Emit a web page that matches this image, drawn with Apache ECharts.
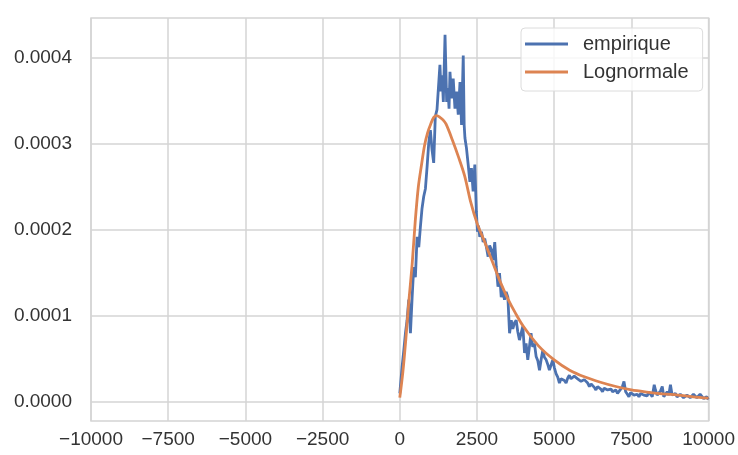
<!DOCTYPE html>
<html>
<head>
    <meta charset="utf-8">
    <title>empirique vs Lognormale</title>
    <script src="https://cdn.jsdelivr.net/npm/echarts@6/dist/echarts.min.js"></script>
    <style>
        html, body { margin: 0; padding: 0; background: #fff; }
    </style>
</head>
<body>
    <div id="main" style="width: 738px;height:455px;"></div>
    <script type="text/javascript">
        // densities, in units of 1e-5
        var UNIT = 1e-5;

        var empiriqueX = [
            0, 75, 130, 183, 236, 290, 345, 400, 452, 505, 560, 615, 668, 720, 775, 830, 885, 937, 990,
            1045, 1098, 1150, 1205, 1246, 1300, 1335, 1370, 1410, 1465, 1518, 1560, 1595, 1625, 1680,
            1730, 1787, 1840, 1893, 1950, 2000, 2055, 2085, 2110, 2160, 2215, 2270, 2320, 2375, 2430,
            2480, 2515, 2550, 2590, 2645, 2700, 2750, 2800, 2860, 2910, 2965, 3020, 3075, 3125, 3180,
            3230, 3285, 3340, 3390, 3445, 3500, 3555, 3610, 3660, 3715, 3770, 3820, 3875, 3930, 3985,
            4040, 4090, 4145, 4200, 4250, 4305, 4360, 4415, 4470, 4525, 4580, 4630, 4685, 4740, 4790,
            4845, 4900, 4955, 5005, 5060, 5115, 5170, 5220, 5275, 5330, 5385, 5440, 5490, 5545, 5600,
            5650, 5705, 5760, 5815, 5870, 5920, 5975, 6030, 6085, 6140, 6195, 6245, 6300, 6350, 6405,
            6460, 6510, 6565, 6620, 6675, 6730, 6780, 6840, 6890, 6945, 6995, 7050, 7100, 7155, 7210,
            7260, 7315, 7370, 7420, 7475, 7530, 7585, 7640, 7690, 7745, 7800, 7850, 7905, 7960, 8010,
            8065, 8120, 8175, 8240, 8280, 8335, 8390, 8445, 8500, 8550, 8605, 8660, 8710, 8765, 8820,
            8875, 8925, 8980, 9030, 9085, 9140, 9190, 9245, 9300, 9350, 9405, 9460, 9510, 9565, 9620,
            9670, 9725, 9780, 9840, 9890, 9940, 9990
        ];
        var empiriqueY = [
            1.0, 4.1, 6.0, 8.0, 9.5, 11.9, 8.0, 12.2, 15.7, 14.5, 19.2, 18.0, 20.4, 22.5, 23.9, 24.8, 27.4, 30.1, 31.6,
            29.3, 27.8, 33.2, 34.0, 34.2, 39.2, 36.1, 38.0, 34.9, 42.7, 34.9, 36.5, 34.1, 38.4, 35.3,
            37.6, 34.1, 36.1, 33.4, 37.2, 32.2, 40.3, 32.2, 30.7, 29.5, 27.6, 25.6, 27.2, 24.5, 27.6,
            22.1, 19.8, 20.5, 19.2, 19.8, 18.6, 19.0, 18.1, 16.9, 18.2, 17.7, 16.5, 18.6, 15.7, 13.4,
            15.0, 12.2, 13.0, 11.9, 12.8, 12.2, 8.0, 9.5, 8.5, 9.2, 9.5, 8.2, 7.2, 8.0, 8.8,
            5.7, 6.8, 4.9, 6.5, 8.0, 6.4, 6.8, 5.3, 4.8, 3.7, 5.0, 6.0, 5.2, 4.9, 4.4,
            3.7, 4.3, 4.9, 4.0, 3.3, 2.9, 2.2, 2.7, 2.9, 2.5, 2.2, 2.8, 3.1, 2.7, 2.6,
            3.0, 3.1, 2.7, 2.6, 2.4, 2.2, 2.6, 2.8, 2.2, 1.8, 2.1, 2.2, 1.7, 1.4, 1.8,
            1.6, 1.5, 1.2, 1.6, 1.8, 1.4, 1.2, 1.5, 1.2, 1.4, 1.4, 1.0, 1.2, 1.5, 1.8,
            2.4, 1.2, 0.9, 0.6, 1.1, 1.0, 0.8, 1.0, 0.9, 0.6, 1.0, 1.2, 0.8, 1.0, 0.7,
            1.2, 0.9, 0.6, 2.0, 1.4, 0.8, 1.0, 1.3, 1.8, 0.6, 0.9, 1.2, 0.8, 2.0, 0.8,
            0.7, 1.0, 0.6, 0.4, 0.9, 0.8, 0.5, 0.4, 0.8, 1.0, 0.5, 0.6, 0.9, 0.8, 0.5,
            0.4, 0.9, 0.8, 0.4, 0.2, 0.6, 0.3
        ];

        var lognormX = [
            0, 100, 200, 300, 400, 500, 600, 700, 800, 900, 1000, 1100, 1200, 1300, 1400, 1500,
            1700, 1900, 2100, 2300, 2500, 2750, 3000, 3250, 3500, 3750, 4000, 4500, 5000, 5500,
            6000, 6500, 7000, 7500, 8000, 8500, 9000, 9500, 10000
        ];
        var lognormY = [
            0.5, 3.5, 7.5, 12, 16, 21, 25, 27.5, 29.8, 31.3, 32.3, 33.1, 33.3, 33.1, 32.8, 32.3,
            30.5, 28.5, 26.3, 23.2, 20.8, 18.6, 16.3, 14, 12, 10.3, 8.8, 6.5, 4.9, 3.7,
            2.9, 2.3, 1.8, 1.4, 1.15, 0.95, 0.8, 0.6, 0.45
        ];

        var yTicks = [0, 0.0001, 0.0002, 0.0003, 0.0004];

        function pairs(xs, ys) {
            return xs.map(function (x, i) { return [x, ys[i] * UNIT]; });
        }

        var chartDom = document.getElementById('main');
        var myChart = echarts.init(chartDom);
        var option;

        var textColor = '#333333';
        var gridColor = '#d4d4d4';
        var font = 'Liberation Sans, Arial, sans-serif';

        option = {
            animation: false,
            backgroundColor: '#ffffff',
            grid: {
                left: 91,
                right: 27,
                top: 18,
                bottom: 34,
                show: true,
                borderColor: gridColor,
                borderWidth: 1.5
            },
            legend: {
                orient: 'vertical',
                left: 521,
                top: 28,
                padding: [6, 14, 9, 4],
                itemGap: 8,
                itemWidth: 43,
                itemHeight: 3,
                icon: 'rect',
                backgroundColor: 'rgba(255,255,255,0.8)',
                borderColor: '#dcdcdc',
                borderWidth: 1,
                borderRadius: 4,
                textStyle: {
                    color: textColor,
                    fontFamily: font,
                    fontSize: 20,
                    padding: [0, 0, 0, 10]
                },
                data: ['empirique', 'Lognormale']
            },
            xAxis: {
                type: 'value',
                min: -10000,
                max: 10000,
                interval: 2500,
                axisLine: { show: false },
                axisTick: { show: false },
                splitLine: { show: true, lineStyle: { color: gridColor, width: 1.5 } },
                axisLabel: {
                    color: textColor,
                    fontFamily: font,
                    fontSize: 19,
                    margin: 9,
                    showMinLabel: true,
                    showMaxLabel: true,
                    formatter: function (v) {
                        return v < 0 ? '\u2212' + (-v) : String(v);
                    }
                }
            },
            yAxis: {
                type: 'value',
                min: -0.0000221,
                max: 0.0004465,
                axisLine: { show: false },
                axisTick: { show: false, customValues: yTicks },
                splitLine: { show: true, lineStyle: { color: gridColor, width: 1.5 } },
                axisLabel: {
                    customValues: yTicks,
                    color: textColor,
                    fontFamily: font,
                    fontSize: 19,
                    margin: 19,
                    formatter: function (v) { return v.toFixed(4); }
                }
            },
            series: [{
                name: 'empirique',
                type: 'line',
                symbol: 'none',
                data: pairs(empiriqueX, empiriqueY),
                lineStyle: { color: '#4c72b0', width: 2.8 },
                itemStyle: { color: '#4c72b0' },
                z: 2
            }, {
                name: 'Lognormale',
                type: 'line',
                symbol: 'none',
                smooth: 0.3,
                data: pairs(lognormX, lognormY),
                lineStyle: { color: '#dd8452', width: 2.8 },
                itemStyle: { color: '#dd8452' },
                z: 3
            }]
        };

        option && myChart.setOption(option);
    </script>
</body>
</html>
